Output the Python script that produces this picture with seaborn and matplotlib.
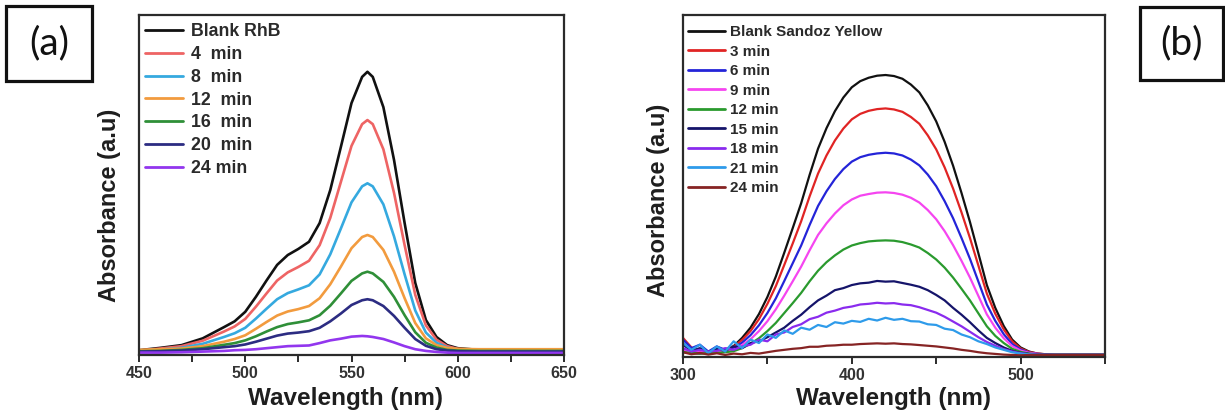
import numpy as np
import pandas as pd
import matplotlib
matplotlib.use("Agg")
import matplotlib.pyplot as plt
from matplotlib.patches import Rectangle
from matplotlib.ticker import MultipleLocator
import seaborn as sns

# ---------------- Panel (a): Rhodamine B degradation ----------------
wl_a = [450, 460, 470, 480, 490, 495, 500, 505, 510, 515, 520, 525, 530, 535,
        540, 545, 550, 555, 557.5, 560, 565, 570, 575, 580, 585, 590, 595, 600,
        610, 620, 630, 640, 650]

rhb_blank = [0.005, 0.012, 0.020, 0.040, 0.073, 0.090, 0.118, 0.162, 0.210, 0.256,
             0.285, 0.303, 0.324, 0.379, 0.476, 0.603, 0.732, 0.809, 0.824, 0.809,
             0.720, 0.565, 0.379, 0.203, 0.094, 0.044, 0.020, 0.011, 0.006, 0.005,
             0.005, 0.005, 0.005]
rhb_4 = [0.004, 0.010, 0.017, 0.033, 0.060, 0.075, 0.097, 0.133, 0.172, 0.210,
         0.234, 0.250, 0.268, 0.314, 0.394, 0.500, 0.606, 0.670, 0.682, 0.670,
         0.596, 0.468, 0.314, 0.168, 0.078, 0.036, 0.017, 0.009, 0.005, 0.005,
         0.005, 0.005, 0.005]
rhb_8 = [0.003, 0.007, 0.012, 0.024, 0.044, 0.055, 0.071, 0.098, 0.127, 0.155,
         0.173, 0.184, 0.196, 0.228, 0.287, 0.363, 0.440, 0.487, 0.496, 0.487,
         0.434, 0.340, 0.228, 0.122, 0.057, 0.027, 0.013, 0.007, 0.004, 0.004,
         0.004, 0.004, 0.004]
rhb_12 = [0.006, 0.008, 0.010, 0.017, 0.030, 0.038, 0.049, 0.068, 0.088, 0.107,
          0.119, 0.126, 0.135, 0.158, 0.199, 0.251, 0.305, 0.338, 0.344, 0.338,
          0.300, 0.236, 0.158, 0.085, 0.040, 0.020, 0.012, 0.009, 0.008, 0.008,
          0.008, 0.008, 0.008]
rhb_16 = [0.002, 0.003, 0.006, 0.011, 0.021, 0.026, 0.034, 0.046, 0.060, 0.073,
          0.082, 0.087, 0.093, 0.108, 0.136, 0.172, 0.209, 0.231, 0.236, 0.231,
          0.206, 0.162, 0.108, 0.058, 0.027, 0.013, 0.006, 0.004, 0.003, 0.003,
          0.003, 0.003, 0.003]
rhb_20 = [0.001, 0.002, 0.004, 0.008, 0.014, 0.017, 0.022, 0.030, 0.039, 0.048,
          0.054, 0.057, 0.061, 0.071, 0.090, 0.113, 0.138, 0.152, 0.155, 0.152,
          0.135, 0.106, 0.071, 0.038, 0.018, 0.008, 0.004, 0.002, 0.001, 0.001,
          0.001, 0.001, 0.001]
rhb_24 = [-0.002, -0.002, -0.001, 0.001, 0.003, 0.005, 0.006, 0.008, 0.011, 0.014,
          0.017, 0.018, 0.019, 0.026, 0.034, 0.039, 0.045, 0.047, 0.046, 0.044,
          0.038, 0.028, 0.017, 0.008, 0.003, 0.000, -0.002, -0.003, -0.003, -0.003,
          -0.003, -0.003, -0.003]

labels_a = ["Blank RhB", "4  min", "8  min", "12  min", "16  min", "20  min", "24 min"]
series_a = [rhb_blank, rhb_4, rhb_8, rhb_12, rhb_16, rhb_20, rhb_24]
colors_a = ["#111111", "#EE6464", "#35A9DF", "#F29B3E", "#2F8F38", "#2C2C82", "#9236EE"]

# ---------------- Panel (b): Sandoz Yellow degradation ----------------
wl_b = list(range(300, 551, 5))

sy_blank = [0.010, 0.005, 0.004, 0.006, 0.010, 0.016, 0.026, 0.050, 0.080, 0.120,
            0.170, 0.230, 0.300, 0.372, 0.445, 0.528, 0.605, 0.665, 0.715, 0.755,
            0.785, 0.803, 0.813, 0.819, 0.821, 0.818, 0.810, 0.793, 0.770, 0.732,
            0.685, 0.625, 0.555, 0.475, 0.390, 0.298, 0.205, 0.138, 0.085, 0.045,
            0.022, 0.010, 0.004, 0.002, 0.001, 0.001, 0.001, 0.001, 0.001, 0.001, 0.001]
sy_3 = [0.050, 0.022, 0.012, 0.008, 0.012, 0.016, 0.024, 0.044, 0.070, 0.105,
        0.150, 0.202, 0.264, 0.327, 0.392, 0.465, 0.532, 0.585, 0.629, 0.664,
        0.691, 0.707, 0.716, 0.721, 0.723, 0.720, 0.713, 0.698, 0.678, 0.644,
        0.603, 0.550, 0.488, 0.418, 0.343, 0.262, 0.180, 0.121, 0.075, 0.040,
        0.019, 0.009, 0.004, 0.002, 0.001, 0.001, 0.001, 0.001, 0.001, 0.001, 0.001]
sy_6 = [0.045, 0.020, 0.030, 0.010, 0.025, 0.015, 0.020, 0.036, 0.058, 0.087,
        0.123, 0.166, 0.217, 0.269, 0.321, 0.381, 0.437, 0.480, 0.516, 0.545,
        0.567, 0.580, 0.587, 0.591, 0.593, 0.591, 0.585, 0.573, 0.556, 0.529,
        0.495, 0.451, 0.401, 0.343, 0.282, 0.215, 0.148, 0.100, 0.061, 0.032,
        0.016, 0.007, 0.003, 0.002, 0.001, 0.001, 0.001, 0.001, 0.001, 0.001, 0.001]
sy_9 = [0.015, 0.010, 0.008, 0.008, 0.009, 0.011, 0.015, 0.029, 0.046, 0.070,
        0.099, 0.134, 0.174, 0.216, 0.259, 0.307, 0.352, 0.386, 0.415, 0.439,
        0.456, 0.467, 0.472, 0.476, 0.477, 0.475, 0.470, 0.461, 0.447, 0.425,
        0.398, 0.363, 0.322, 0.276, 0.227, 0.173, 0.119, 0.080, 0.049, 0.026,
        0.013, 0.006, 0.003, 0.002, 0.001, 0.001, 0.001, 0.001, 0.001, 0.001, 0.001]
sy_12 = [0.008, 0.006, 0.005, 0.005, 0.006, 0.008, 0.011, 0.020, 0.033, 0.049,
         0.070, 0.094, 0.123, 0.152, 0.182, 0.216, 0.247, 0.272, 0.292, 0.309,
         0.321, 0.328, 0.333, 0.335, 0.336, 0.335, 0.331, 0.324, 0.315, 0.299,
         0.280, 0.256, 0.227, 0.194, 0.160, 0.122, 0.084, 0.056, 0.035, 0.018,
         0.009, 0.004, 0.002, 0.001, 0.001, 0.001, 0.001, 0.001, 0.001, 0.001, 0.001]
sy_15 = [0.030, 0.012, 0.020, 0.008, 0.018, 0.012, 0.025, 0.020, 0.035, 0.040,
         0.052, 0.066, 0.080, 0.100, 0.118, 0.140, 0.160, 0.174, 0.190, 0.196,
         0.205, 0.210, 0.212, 0.217, 0.215, 0.216, 0.211, 0.206, 0.200, 0.190,
         0.176, 0.160, 0.138, 0.118, 0.096, 0.072, 0.050, 0.035, 0.022, 0.012,
         0.006, 0.003, 0.001, 0.001, 0.000, 0.000, 0.000, 0.000, 0.000, 0.000, 0.000]
sy_18 = [0.020, 0.010, 0.015, 0.010, 0.012, 0.020, 0.015, 0.025, 0.030, 0.045,
         0.040, 0.060, 0.066, 0.082, 0.090, 0.105, 0.112, 0.124, 0.130, 0.138,
         0.142, 0.148, 0.150, 0.153, 0.151, 0.152, 0.148, 0.146, 0.140, 0.132,
         0.124, 0.112, 0.098, 0.084, 0.068, 0.052, 0.038, 0.027, 0.017, 0.010,
         0.005, 0.002, 0.001, 0.000, 0.000, 0.000, 0.000, 0.000, 0.000, 0.000, 0.000]
sy_21 = [0.035, 0.015, 0.030, 0.005, 0.025, 0.010, 0.040, 0.020, 0.045, 0.035,
         0.060, 0.050, 0.072, 0.062, 0.080, 0.074, 0.088, 0.082, 0.096, 0.092,
         0.100, 0.097, 0.106, 0.101, 0.109, 0.103, 0.106, 0.099, 0.098, 0.090,
         0.088, 0.077, 0.073, 0.060, 0.052, 0.040, 0.032, 0.022, 0.015, 0.008,
         0.004, 0.002, 0.000, 0.000, 0.000, 0.000, 0.000, 0.000, 0.000, 0.000, 0.000]
sy_24 = [0.008, 0.002, 0.006, 0.001, 0.005, 0.000, 0.004, 0.002, 0.006, 0.004,
         0.008, 0.012, 0.015, 0.018, 0.020, 0.024, 0.024, 0.027, 0.028, 0.030,
         0.030, 0.032, 0.033, 0.034, 0.033, 0.034, 0.032, 0.031, 0.029, 0.027,
         0.025, 0.022, 0.019, 0.015, 0.012, 0.008, 0.005, 0.003, 0.001, 0.000,
         -0.001, 0.000, 0.000, 0.000, 0.000, 0.000, 0.000, 0.000, 0.000, 0.000, 0.000]

labels_b = ["Blank Sandoz Yellow", "3 min", "6 min", "9 min", "12 min",
            "15 min", "18 min", "21 min", "24 min"]
series_b = [sy_blank, sy_3, sy_6, sy_9, sy_12, sy_15, sy_18, sy_21, sy_24]
colors_b = ["#111111", "#E02424", "#2424D8", "#F545F0", "#2A9A2E",
            "#15146A", "#8A2BEE", "#2E9BEA", "#862424"]


def long_frame(wl, series, labels):
    parts = []
    for lab, vals in zip(labels, series):
        parts.append(pd.DataFrame({"wl": wl, "abs": vals, "sample": lab}))
    return pd.concat(parts, ignore_index=True)


df_a = long_frame(wl_a, series_a, labels_a)
df_b = long_frame(wl_b, series_b, labels_b)

sns.set_theme(style="white")
plt.rcParams["font.family"] = ["Liberation Sans", "DejaVu Sans"]
plt.rcParams["font.weight"] = "bold"

fig = plt.figure(figsize=(12.25, 4.12), dpi=100)
W, H = 1225, 412

ax_a = fig.add_axes([139 / W, (H - 355) / H, 425 / W, 340 / H])
ax_b = fig.add_axes([683 / W, (H - 357) / H, 422 / W, 342 / H])

dark = "#2b2b2b"

sns.lineplot(data=df_a, x="wl", y="abs", hue="sample", hue_order=labels_a,
             palette=colors_a, estimator=None, sort=False, linewidth=1.9, ax=ax_a)
sns.lineplot(data=df_b, x="wl", y="abs", hue="sample", hue_order=labels_b,
             palette=colors_b, estimator=None, sort=False, linewidth=1.6, ax=ax_b)

ax_a.set_xlim(450, 650)
ax_a.set_ylim(-0.009, 0.991)
ax_a.xaxis.set_major_locator(MultipleLocator(50))
ax_a.xaxis.set_minor_locator(MultipleLocator(25))

ax_b.set_xlim(300, 550)
ax_b.set_ylim(-0.006, 0.997)
ax_b.xaxis.set_major_locator(MultipleLocator(100))
ax_b.xaxis.set_minor_locator(MultipleLocator(50))

for ax in (ax_a, ax_b):
    ax.set_yticks([])
    for sp in ax.spines.values():
        sp.set_visible(True)
        sp.set_color(dark)
        sp.set_linewidth(1.6)
    ax.tick_params(axis="x", which="both", direction="out", length=5, width=1.4,
                   color=dark, bottom=True, labelsize=11.5, labelcolor="#333333",
                   pad=3)
    ax.tick_params(axis="x", which="minor", length=5)
    for t in ax.get_xticklabels():
        t.set_fontweight("bold")
    ax.set_xlabel("Wavelength (nm)", fontsize=17.5, fontweight="bold", color="#1e1e1e")
    ax.set_ylabel("Absorbance (a.u)", fontsize=17, fontweight="bold", color="#1e1e1e")

ax_a.xaxis.set_label_coords(0.487, -0.093)
ax_b.xaxis.set_label_coords(0.498, -0.088)
ax_a.yaxis.set_label_coords(-0.043, 0.44)
ax_b.yaxis.set_label_coords(-0.03, 0.457)

leg_a = ax_a.legend(loc="upper left", bbox_to_anchor=(6 / 425, 1 - 8 / 340),
                    frameon=False, borderpad=0, borderaxespad=0,
                    handlelength=2.15, handletextpad=0.45, labelspacing=0.33,
                    prop={"weight": "bold", "size": 12.8})
for t in leg_a.get_texts():
    t.set_color("#2a2a2a")
for ln in leg_a.get_lines():
    ln.set_linewidth(2.0)

leg_b = ax_b.legend(loc="upper left", bbox_to_anchor=(5 / 422, 1 - 10 / 342),
                    frameon=False, borderpad=0, borderaxespad=0,
                    handlelength=2.45, handletextpad=0.28, labelspacing=0.36,
                    prop={"weight": "bold", "size": 11})
for t in leg_b.get_texts():
    t.set_color("#2a2a2a")
for ln in leg_b.get_lines():
    ln.set_linewidth(2.0)

# Panel tags in framed boxes
for (x0, y0, x1, y1), tag in (((6, 6, 92, 81), "(a)"), ((1140, 7, 1223, 80), "(b)")):
    fig.patches.append(Rectangle((x0 / W, 1 - y1 / H), (x1 - x0) / W, (y1 - y0) / H,
                                 transform=fig.transFigure, fill=False,
                                 edgecolor="#111111", linewidth=2.3))
    fig.text((x0 + x1) / 2 / W, 1 - (y0 + y1) / 2 / H, tag, ha="center", va="center",
             fontsize=28, fontweight="normal", family=["Lato", "DejaVu Sans"],
             color="#111111")

fig.savefig("out.png", dpi=100)
